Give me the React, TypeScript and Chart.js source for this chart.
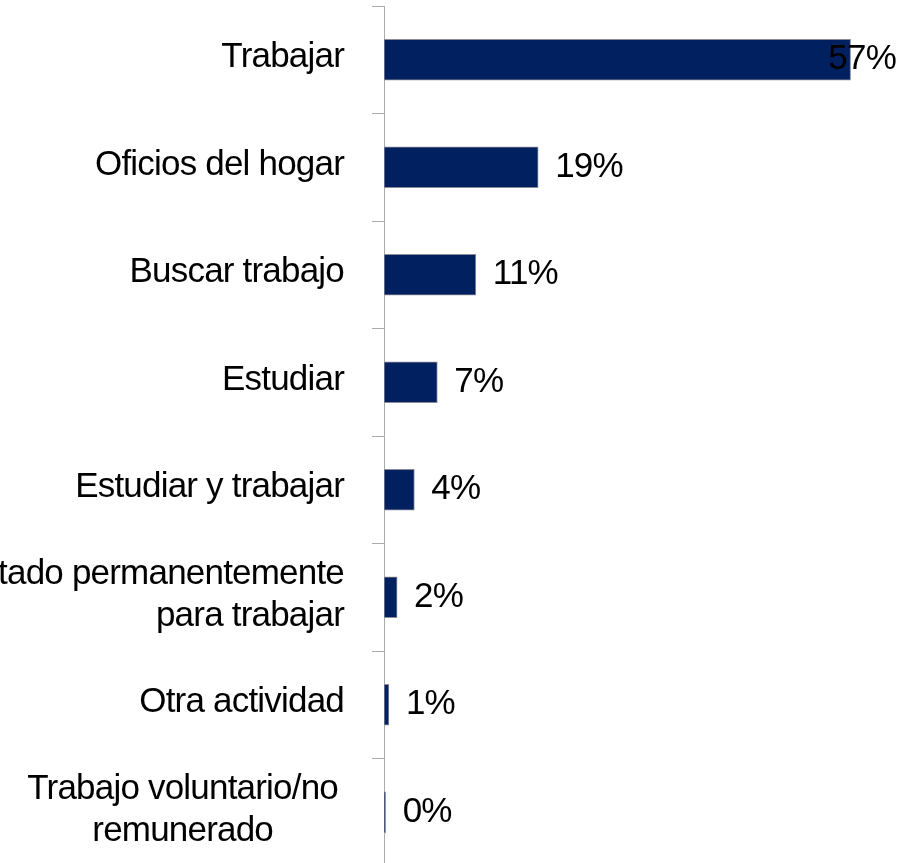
import React, { useEffect, useRef } from 'react';
import { Chart, registerables } from 'chart.js';

Chart.register(...registerables);

const categories: string[][] = [
  ['Trabajar'],
  ['Oficios del hogar'],
  ['Buscar trabajo'],
  ['Estudiar'],
  ['Estudiar y trabajar'],
  ['Incapacitado permanentemente', 'para trabajar'],
  ['Otra actividad'],
  ['Trabajo voluntario/no', 'remunerado'],
];
const values = [56.9, 18.8, 11.2, 6.5, 3.7, 1.6, 0.6, 0.2];
const valueLabels = ['57%', '19%', '11%', '7%', '4%', '2%', '1%', '0%'];
const xMax = 60;

const FONT = '35px "Liberation Sans", Arial, sans-serif';

const labelPlugin = {
  id: 'customLabels',
  afterDatasetsDraw(chart: any) {
    const ctx = chart.ctx as CanvasRenderingContext2D;
    const yScale = chart.scales.y;
    const meta = chart.getDatasetMeta(0);
    ctx.save();
    ctx.font = FONT;
    ctx.fillStyle = '#000000';
    ctx.textBaseline = 'middle';
    (ctx as any).letterSpacing = '-0.8px';
    const rightX = yScale.left - 28;
    const lh = 42;
    categories.forEach((lines, i) => {
      const cy = yScale.getPixelForValue(i);
      const widths = lines.map((l) => ctx.measureText(l).width);
      const widest = Math.max(...widths);
      const fits = widest <= rightX;
      lines.forEach((line, j) => {
        const ly = cy + (j - (lines.length - 1) / 2) * lh - 2;
        if (lines.length > 1 && fits) {
          ctx.textAlign = 'center';
          ctx.fillText(line, rightX - widest / 2 - 6, ly);
        } else {
          ctx.textAlign = 'right';
          ctx.fillText(line, rightX, ly);
        }
      });
    });
    meta.data.forEach((bar: any, i: number) => {
      const text = valueLabels[i];
      const w = ctx.measureText(text).width;
      const x = Math.min(bar.x + 17, chart.width - 5 - w);
      ctx.textAlign = 'left';
      ctx.fillText(text, x, bar.y);
    });
    ctx.restore();
  },
};

export default function App() {
  const ref = useRef<HTMLCanvasElement | null>(null);
  useEffect(() => {
    if (!ref.current) return;
    const chart = new Chart(ref.current, {
      type: 'bar',
      data: {
        labels: categories.map((c) => c.join(' ')),
        datasets: [
          {
            data: values,
            backgroundColor: '#002060',
            borderColor: '#8c8c96',
            borderWidth: 1,
            borderSkipped: false,
            barThickness: 41,
          },
        ],
      },
      options: {
        indexAxis: 'y',
        animation: false,
        responsive: false,
        maintainAspectRatio: false,
        layout: { padding: { left: 372, right: 25, top: 6, bottom: 0 } },
        plugins: {
          legend: { display: false },
          tooltip: { enabled: false },
        },
        scales: {
          x: { display: false, min: 0, max: xMax },
          y: {
            display: true,
            offset: true,
            ticks: { display: false },
            grid: {
              display: true,
              offset: true,
              drawOnChartArea: false,
              drawTicks: true,
              tickLength: 12,
              color: '#ababab',
              lineWidth: 1,
            },
            border: { display: true, color: '#ababab', width: 1 },
          },
        },
      },
      plugins: [labelPlugin],
    });
    return () => chart.destroy();
  }, []);
  return (
    <div
      style={{
        position: 'fixed',
        left: 0,
        top: 0,
        width: 901,
        height: 863,
        overflow: 'hidden',
        background: '#ffffff',
      }}
    >
      <canvas ref={ref} width={901} height={866} style={{ display: 'block' }} />
    </div>
  );
}
